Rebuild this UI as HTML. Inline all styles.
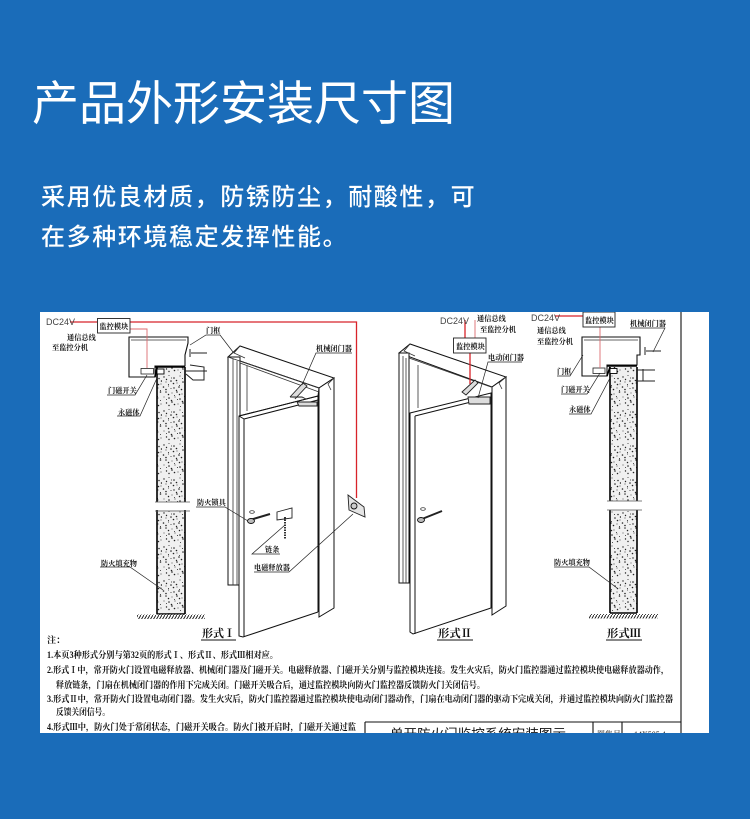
<!DOCTYPE html>
<html lang="zh">
<head>
<meta charset="utf-8">
<title>产品外形安装尺寸图</title>
<style>
html,body{margin:0;padding:0;background:#1a6cb9}
body{width:750px;height:819px;overflow:hidden;position:relative}
.t{position:absolute;color:#fff;font-family:"Liberation Sans","Noto Sans CJK SC",sans-serif;white-space:nowrap;margin:0}
#title{left:32px;top:70px;font-size:47px;line-height:68px;font-weight:400;letter-spacing:0}
#s1{left:41px;top:180px;font-size:24px;line-height:36px;letter-spacing:1.6px;font-weight:500}
#s2{left:41px;top:220px;font-size:24px;line-height:36px;letter-spacing:1.6px;font-weight:500}
svg{position:absolute;left:40px;top:312px}
.b{filter:blur(.3px)}
text{font-family:"Liberation Serif","Noto Serif CJK SC",serif;fill:#111}
.l{font-size:7.2px;font-weight:700}
.n{font-size:9px;font-weight:700}
.f{font-size:11px;font-weight:700;fill:#111}
.d{font-family:"Liberation Sans",sans-serif;font-size:9px;fill:#444}
</style>
</head>
<body>
<h1 class="t" id="title">产品外形安装尺寸图</h1>
<p class="t" id="s1">采用优良材质，防锈防尘，耐酸性，可</p>
<p class="t" id="s2">在多种环境稳定发挥性能。</p>

<svg width="669" height="421" viewBox="40 312 669 421" xmlns="http://www.w3.org/2000/svg">
<defs>
<g id="dots" fill="#222">
<circle cx="2" cy="3" r=".7"/><circle cx="7" cy="1.500" r=".5"/><circle cx="12" cy="4" r=".8"/><circle cx="18" cy="2" r=".55"/><circle cx="24" cy="4.500" r=".75"/>
<circle cx="4" cy="8" r=".55"/><circle cx="9" cy="7" r=".8"/><circle cx="15" cy="9" r=".5"/><circle cx="21" cy="8" r=".8"/><circle cx="26" cy="10" r=".5"/>
<circle cx="1.500" cy="13" r=".8"/><circle cx="6.500" cy="12" r=".5"/><circle cx="12" cy="14" r=".7"/><circle cx="17" cy="13" r=".8"/><circle cx="23" cy="14" r=".55"/>
<circle cx="4" cy="18" r=".75"/><circle cx="10" cy="19" r=".5"/><circle cx="15" cy="18" r=".75"/><circle cx="20" cy="20" r=".55"/><circle cx="25.500" cy="18" r=".8"/>
<circle cx="2" cy="23" r=".5"/><circle cx="7" cy="24" r=".8"/><circle cx="13" cy="23" r=".55"/><circle cx="18" cy="25" r=".8"/><circle cx="23" cy="24" r=".5"/>
<circle cx="4.500" cy="29" r=".7"/><circle cx="10" cy="28" r=".8"/><circle cx="16" cy="30" r=".5"/><circle cx="21" cy="29" r=".75"/><circle cx="26" cy="30" r=".55"/>
</g>
<pattern id="sp" width="27" height="34" patternUnits="userSpaceOnUse">
<rect width="27" height="34" fill="#f0f0f0"/>
<use href="#dots"/>
<use href="#dots" x="2.500" y="2.500"/>
</pattern>
<pattern id="ht" width="3" height="5" patternUnits="userSpaceOnUse">
<rect width="3" height="5" fill="#fff"/>
<path d="M0 5L3 0" stroke="#111" stroke-width=".9"/>
</pattern>
<clipPath id="c"><rect x="40" y="312" width="669" height="421"/></clipPath>
</defs>
<rect x="40" y="312" width="669" height="421" fill="#fff"/>
<g clip-path="url(#c)" class="b">

<!-- right and title block rules -->
<path d="M681 312V733M365 722H681M365 722V733M593 722V733M622 722V733" stroke="#111" stroke-width="1.100" fill="none"/>

<!-- ===== Form I wall section ===== -->
<rect x="157" y="367" width="28" height="135" fill="url(#sp)"/>
<rect x="157" y="510" width="28" height="104" fill="url(#sp)"/>
<path d="M157 367V502M185 367V502M157 510V614M185 510V614M157 614H185" stroke="#000" stroke-width="1.600" fill="none"/>
<path d="M155 502H190M155 511H190" stroke="#555" stroke-width=".8"/>
<rect x="137" y="614.500" width="68" height="4.500" fill="url(#ht)"/>
<path d="M129 337H188V343L185 355V366H155V377H129Z" fill="#fff" stroke="#111" stroke-width="1.100"/>
<path d="M131 340H186" stroke="#333" stroke-width=".8"/>
<path d="M155 367H185M155 377L157 367" stroke="#000" stroke-width="1.600" fill="none"/>
<rect x="141" y="368.500" width="12.500" height="5.500" fill="#fff" stroke="#222" stroke-width=".8"/>
<rect x="157" y="369" width="7" height="5" fill="#fff" stroke="#000" stroke-width=".9"/>
<path d="M190 349V357M191 353H207M185 371H207M190 365L204 367V380H193L186 374" stroke="#222" stroke-width="1" fill="none"/>

<!-- Form I wiring -->
<path d="M70 322H97M130 322H356.500V498" stroke="#d8232a" stroke-width="1.300" fill="none"/>
<path d="M130 329H147V368" stroke="#dc6b6f" stroke-width=".9" fill="none"/>
<rect x="97.500" y="318.500" width="32.500" height="14.500" fill="#fff" stroke="#222" stroke-width=".9"/>

<!-- ===== Form I door ===== -->
<g fill="#fff" stroke="#111" stroke-width="1">
<path d="M228 357L240 346L334 378L319 388Z"/>
<path d="M228 357H240V585H228Z"/>
<path d="M319 388L334 378V608L319 617Z"/>
<path d="M240 361L319 388L318 396L239 416V636L243 637L318 612"/>
</g>
<path d="M233 359V585M237 361V585M247 366V411M240 346L234 353L245 358M334 378L328 384L331 390M228 357L319 388M240 363L319 392" stroke="#333" stroke-width=".8" fill="none"/>
<path d="M239 416L244 419V637M244 419L318 400M239 416L318 396V612" stroke="#111" stroke-width="1" fill="none"/>
<path d="M290 397L303 383L307 386L295 399M290 397H302L306 399M297 402H317V406H299Z" fill="#ddd" stroke="#222" stroke-width=".9"/>
<!-- lock, chain, release -->
<ellipse cx="252" cy="512" rx="2.300" ry="1.300" fill="none" stroke="#222" stroke-width=".7"/>
<path d="M250 520L270 514" stroke="#222" stroke-width="2"/>
<ellipse cx="251" cy="521" rx="3.500" ry="2.500" fill="#bbb" stroke="#111" stroke-width=".9"/>
<path d="M277 512L292 508V518L277 520Z" fill="#fff" stroke="#222" stroke-width=".9"/>
<path d="M285 517V539" stroke="#333" stroke-width="2" stroke-dasharray="1.500 1"/>
<path d="M348 495L364 507L365 517L349 510Z" fill="#e4e4e4" stroke="#222" stroke-width=".9"/>
<circle cx="354" cy="506" r="3" fill="#ccc" stroke="#111" stroke-width=".9"/>

<!-- Form I leaders -->
<g stroke="#222" stroke-width=".7" fill="none">
<path d="M190 345L206 335H220L233 352"/>
<path d="M302 385L316 353H352"/>
<path d="M147 375L135 395H107"/>
<path d="M157 378L140 416H117"/>
<path d="M196 507H225L248 521"/>
<path d="M285 525L252 554H280"/>
<path d="M353 514L289 572H254"/>
<path d="M100 567H130L163 590"/>
</g>
<text class="l" x="67" y="340">通信总线</text>
<text class="l" x="52" y="350">至监控分机</text>
<text class="l" x="99.500" y="329">监控模块</text>
<text class="l" x="206" y="333">门框</text>
<text class="l" x="316" y="351">机械闭门器</text>
<text class="l" x="108" y="393">门磁开关</text>
<text class="l" x="118" y="415">永磁体</text>
<text class="l" x="197" y="505">防火锁具</text>
<text class="l" x="265" y="552">链条</text>
<text class="l" x="254" y="570">电磁释放器</text>
<text class="l" x="101" y="566">防火填充物</text>
<text class="d" x="46" y="325">DC24V</text>

<!-- ===== Form II door ===== -->
<g fill="#fff" stroke="#111" stroke-width="1">
<path d="M399 353L410 344L506 377L492 387Z"/>
<path d="M399 353H409V583H399Z"/>
<path d="M492 387L506 377V606L492 615Z"/>
</g>
<path d="M403 356V583M406 358V583M418 365V408M410 344L404 351L415 356M506 377L499 383L502 389M409 358L491 387" stroke="#333" stroke-width=".8" fill="none"/>
<path d="M410 413L491 393V608L413 634L410 632ZM415 416V634M415 416L491 397" fill="#fff" stroke="#111" stroke-width="1"/>
<path d="M462 392L475 380L478 383L466 395ZM468 397H490V404H469Z" fill="#ddd" stroke="#222" stroke-width=".9"/>
<ellipse cx="423" cy="509" rx="2.300" ry="1.300" fill="none" stroke="#222" stroke-width=".7"/>
<path d="M422 519L442 511" stroke="#222" stroke-width="2"/>
<ellipse cx="421" cy="520" rx="3.500" ry="2.500" fill="#bbb" stroke="#111" stroke-width=".9"/>
<path d="M465 320V338M470 353V384" stroke="#d8232a" stroke-width="1.300" fill="none"/>
<path d="M475 320V338" stroke="#dc6b6f" stroke-width=".9" fill="none"/>
<rect x="453.500" y="338" width="32.500" height="15" fill="#fff" stroke="#222" stroke-width=".9"/>
<path d="M478 398L488 362H522" stroke="#222" stroke-width=".7" fill="none"/>
<text class="d" x="440" y="324">DC24V</text>
<text class="l" x="477" y="321">通信总线</text>
<text class="l" x="480" y="332">至监控分机</text>
<text class="l" x="456" y="349">监控模块</text>
<text class="l" x="488" y="360">电动闭门器</text>

<!-- ===== Form III wall section ===== -->
<rect x="610" y="367" width="27" height="134" fill="url(#sp)"/>
<rect x="610" y="510" width="27" height="103" fill="url(#sp)"/>
<path d="M610 367V501M637 367V501M610 510V613M637 510V613M610 613H637" stroke="#000" stroke-width="1.600" fill="none"/>
<path d="M607 501H642M607 510H642" stroke="#555" stroke-width=".8"/>
<rect x="589" y="614" width="69" height="4.500" fill="url(#ht)"/>
<path d="M582 337H640V355H637V365H607V376H582Z" fill="#fff" stroke="#111" stroke-width="1.100"/>
<path d="M584 340H638" stroke="#333" stroke-width=".8"/>
<path d="M607 366H637M607 376L610 367" stroke="#000" stroke-width="1.600" fill="none"/>
<rect x="593" y="368" width="12" height="5.500" fill="#fff" stroke="#222" stroke-width=".8"/>
<rect x="610" y="368.500" width="7" height="5" fill="#fff" stroke="#000" stroke-width=".9"/>
<path d="M645 347V355M646 351H661M637 370H655M643 369V381H655M637 381H655" stroke="#222" stroke-width="1" fill="none"/>
<path d="M555 316H583" stroke="#d8232a" stroke-width="1.300"/>
<path d="M600 327V368" stroke="#dc6b6f" stroke-width=".9"/>
<rect x="583" y="312" width="32" height="15" fill="#fff" stroke="#222" stroke-width=".9"/>
<g stroke="#222" stroke-width=".7" fill="none">
<path d="M653 352L665 328H630"/>
<path d="M583 355L570 376H557"/>
<path d="M600 373L587 394H561"/>
<path d="M610 378L591 414H569"/>
<path d="M554 567H589L617 588"/>
</g>
<text class="d" x="531" y="321">DC24V</text>
<text class="l" x="537" y="333">通信总线</text>
<text class="l" x="537" y="344">至监控分机</text>
<text class="l" x="585" y="323">监控模块</text>
<text class="l" x="630" y="326">机械闭门器</text>
<text class="l" x="557" y="374">门框</text>
<text class="l" x="561" y="392">门磁开关</text>
<text class="l" x="569" y="412">永磁体</text>
<text class="l" x="554" y="565">防火填充物</text>

<!-- form captions -->
<text class="f" x="202" y="637" textLength="33" lengthAdjust="spacingAndGlyphs">形式Ⅰ</text>
<text class="f" x="438" y="637" textLength="34" lengthAdjust="spacingAndGlyphs">形式Ⅱ</text>
<text class="f" x="607" y="637" textLength="34" lengthAdjust="spacingAndGlyphs">形式Ⅲ</text>
<path d="M201 640H236M437 640H473M606 640H642" stroke="#111" stroke-width=".9"/>

<!-- notes -->
<text class="n" x="47" y="643">注：</text>
<text class="n" x="47" y="658" textLength="231" lengthAdjust="spacingAndGlyphs">1.本页3种形式分别与第32页的形式Ⅰ、形式Ⅱ、形式Ⅲ相对应。</text>
<text class="n" x="47" y="673" textLength="622" lengthAdjust="spacingAndGlyphs">2.形式Ⅰ中，常开防火门设置电磁释放器、机械闭门器及门磁开关。电磁释放器、门磁开关分别与监控模块连接。发生火灾后，防火门监控器通过监控模块使电磁释放器动作，</text>
<text class="n" x="56" y="688" textLength="429" lengthAdjust="spacingAndGlyphs">释放链条，门扇在机械闭门器的作用下完成关闭。门磁开关吸合后，通过监控模块向防火门监控器反馈防火门关闭信号。</text>
<text class="n" x="47" y="702" textLength="626" lengthAdjust="spacingAndGlyphs">3.形式Ⅱ中，常开防火门设置电动闭门器。发生火灾后，防火门监控器通过监控模块使电动闭门器动作，门扇在电动闭门器的驱动下完成关闭，并通过监控模块向防火门监控器</text>
<text class="n" x="56" y="715" textLength="54" lengthAdjust="spacingAndGlyphs">反馈关闭信号。</text>
<text class="n" x="47" y="730" textLength="309" lengthAdjust="spacingAndGlyphs">4.形式Ⅲ中，防火门处于常闭状态，门磁开关吸合。防火门被开启时，门磁开关通过监</text>

<!-- clipped title block -->
<text x="390" y="738" font-size="12.500" textLength="176" lengthAdjust="spacingAndGlyphs" style="font-family:'Liberation Sans','Noto Sans CJK SC',sans-serif">单开防火门监控系统安装图示</text>
<text x="597" y="737" font-size="8">图集号</text>
<text x="634" y="737" font-size="8">14X505-1</text>
</g>
</svg>
</body>
</html>
